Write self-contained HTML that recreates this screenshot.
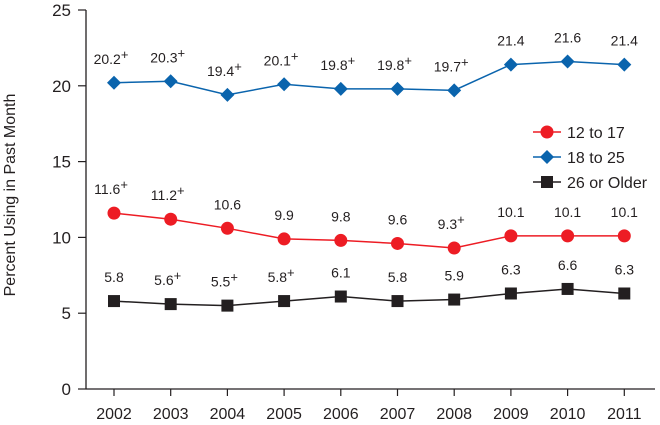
<!DOCTYPE html>
<html><head><meta charset="utf-8"><style>
body{margin:0;background:#fff;}
svg{display:block;font-family:"Liberation Sans",Arial,sans-serif;}
</style></head><body>
<svg id="c" width="660" height="425"></svg>
<script>
const years=[2002,2003,2004,2005,2006,2007,2008,2009,2010,2011];
const teen=[11.6,11.2,10.6,9.9,9.8,9.6,9.3,10.1,10.1,10.1];
const young=[20.2,20.3,19.4,20.1,19.8,19.8,19.7,21.4,21.6,21.4];
const older=[5.8,5.6,5.5,5.8,6.1,5.8,5.9,6.3,6.6,6.3];
const teenSig=[1,1,0,0,0,0,1,0,0,0];
const youngSig=[1,1,1,1,1,1,1,0,0,0];
const olderSig=[0,1,1,1,0,0,0,0,0,0];
const yTicks=[0,5,10,15,20,25];
const NS="http://www.w3.org/2000/svg";
const svg=document.getElementById('c');
const X0=86,Y0=389,Y25=10;
function xs(i){return 114+i*56.7;}
function ys(v){return Y0-(v/25)*(Y0-Y25);}
function mk(t,a,p){const e=document.createElementNS(NS,t);for(const k in a)e.setAttribute(k,a[k]);(p||svg).appendChild(e);return e;}
let ax=mk('line',{x1:X0,y1:Y25,x2:X0,y2:Y0,stroke:'#231f20','stroke-width':1.3});


let bx=mk('line',{x1:X0,y1:Y0,x2:655,y2:Y0,stroke:'#231f20','stroke-width':1.3});


yTicks.forEach(v=>{
 mk('line',{x1:78,y1:ys(v),x2:X0,y2:ys(v),stroke:'#231f20','stroke-width':1.2});
 let t=mk('text',{x:71,y:ys(v)+6,'text-anchor':'end','font-size':17,fill:'#231f20'});t.textContent=v;
 
 
});
years.forEach((y,i)=>{
 mk('line',{x1:xs(i),y1:Y0,x2:xs(i),y2:396,stroke:'#231f20','stroke-width':1.2});
 let t=mk('text',{x:xs(i),y:419,'text-anchor':'middle','font-size':16,fill:'#231f20'});t.textContent=y;
 
 
});
let yt=mk('text',{x:0,y:0,'text-anchor':'middle','font-size':16,fill:'#231f20',transform:'translate(15,195) rotate(-90)'});
yt.textContent='Percent Using in Past Month';


function marker(shape,x,y,col,g){
 if(shape==='circle')return mk('circle',{cx:x,cy:y,r:6.5,fill:col},g);
 if(shape==='diamond')return mk('polygon',{points:`${x},${y-7} ${x+7},${y} ${x},${y+7} ${x-7},${y}`,fill:col},g);
 return mk('rect',{x:x-6,y:y-6,width:12,height:12,fill:col},g);
}
function series(vals,sig,col,shape,name){
 const g=mk('g',{});
 
 
 mk('polyline',{points:vals.map((v,i)=>xs(i)+','+ys(v)).join(' '),fill:'none',stroke:col,'stroke-width':1.5},g);
 vals.forEach((v,i)=>{
  const m=marker(shape,xs(i),ys(v),col,g);
  
  
  const t=mk('text',{x:xs(i)-(sig[i]?3:0),y:ys(v)-19,'text-anchor':'middle','font-size':14,fill:'#231f20'},g);
  t.textContent=v.toFixed(1);
  
  
  if(sig[i]){const s=mk('tspan',{dy:-5,'font-size':13},t);s.textContent='+';}
 });
}
series(young,youngSig,'#0a64ad','diamond','series-18-to-25');
series(teen,teenSig,'#ed1c24','circle','series-12-to-17');
series(older,olderSig,'#231f20','square','series-26-or-older');
const leg=[['12 to 17','#ed1c24','circle'],['18 to 25','#0a64ad','diamond'],['26 or Older','#231f20','square']];
leg.forEach((l,i)=>{
 const y=132+i*25;
 const g=mk('g',{});
 
 
 mk('line',{x1:533,y1:y,x2:561,y2:y,stroke:l[1],'stroke-width':1.5},g);
 marker(l[2],547,y,l[1],g);
 const t=mk('text',{x:567,y:y+6,'font-size':16,fill:'#231f20'},g);t.textContent=l[0];
});
</script>
</body></html>
